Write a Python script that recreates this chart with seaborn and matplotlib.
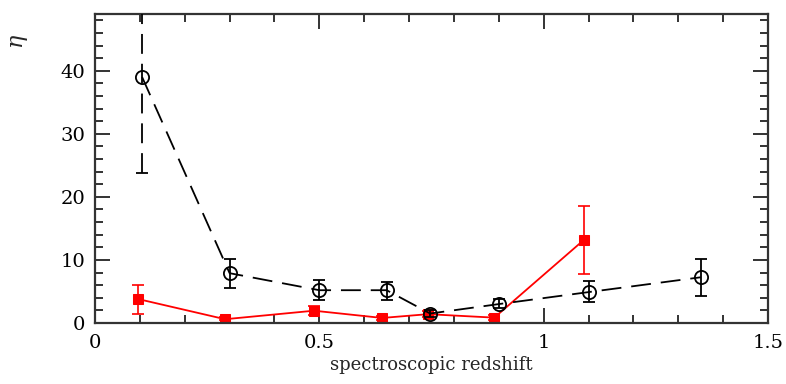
import numpy as np
import pandas as pd
import matplotlib
matplotlib.use("Agg")
import matplotlib.pyplot as plt
import seaborn as sns
from matplotlib.ticker import MultipleLocator

sns.set_theme(style="ticks")
plt.rcParams["font.family"] = ["DejaVu Serif"]
plt.rcParams["mathtext.fontset"] = "dejavuserif"

# Black sample: open circles, dashed line
z_black = [0.105, 0.30, 0.50, 0.65, 0.747, 0.90, 1.10, 1.35]
eta_black = [39.0, 7.9, 5.2, 5.2, 1.5, 3.0, 4.9, 7.25]
lo_black = [23.8, 5.5, 3.65, 3.65, 1.0, 2.3, 3.3, 4.3]
hi_black = [55.0, 10.1, 6.8, 6.55, 2.0, 3.8, 6.6, 10.1]

# Red sample: filled squares, solid line
z_red = [0.096, 0.29, 0.488, 0.64, 0.742, 0.89, 1.09]
eta_red = [3.8, 0.6, 1.95, 0.8, 1.4, 0.85, 13.2]
lo_red = [1.5, 0.4, 1.2, 0.5, 0.9, 0.5, 7.8]
hi_red = [6.0, 0.9, 2.7, 1.1, 1.9, 1.2, 18.6]

xticks = [0, 0.5, 1, 1.5]
xticklabels = ["0", "0.5", "1", "1.5"]
yticks = [0, 10, 20, 30, 40]

df_black = pd.DataFrame({"z": z_black, "eta": eta_black})
df_red = pd.DataFrame({"z": z_red, "eta": eta_red})

DASH = (0, (11, 5.5))

fig = plt.figure(figsize=(7.86, 3.84), dpi=100)
ax = fig.add_axes([95 / 786, 61 / 384, 673 / 786, 309 / 384])

# red sample (drawn underneath)
ax.errorbar(z_red, eta_red,
            yerr=[np.array(eta_red) - np.array(lo_red),
                  np.array(hi_red) - np.array(eta_red)],
            fmt="none", ecolor="red", elinewidth=1.2, capsize=4,
            capthick=1.2, zorder=2)
sns.lineplot(data=df_red, x="z", y="eta", ax=ax, color="red",
             linewidth=1.3, sort=False, zorder=2, marker="s",
             markersize=6.5, markeredgecolor="red", markerfacecolor="red")

# black sample: the long first bar is dashed, the rest solid
yb = np.array(eta_black)
err_lo = yb - np.array(lo_black)
err_hi = np.array(hi_black) - yb
eb0 = ax.errorbar(z_black[:1], eta_black[:1],
                  yerr=[err_lo[:1], err_hi[:1]],
                  fmt="none", ecolor="black", elinewidth=1.3, capsize=4,
                  capthick=1.3, zorder=3)
eb0[2][0].set_linestyle(DASH)
ax.errorbar(z_black[1:], eta_black[1:],
            yerr=[err_lo[1:], err_hi[1:]],
            fmt="none", ecolor="black", elinewidth=1.3, capsize=4,
            capthick=1.3, zorder=3)
sns.lineplot(data=df_black, x="z", y="eta", ax=ax, color="black",
             linewidth=1.3, sort=False, zorder=3)
ax.lines[-1].set_linestyle(DASH)
ax.plot(z_black, eta_black, linestyle="none", marker="o", markersize=9.5,
        markerfacecolor="none", markeredgecolor="black",
        markeredgewidth=1.3, zorder=4)

ax.set_xlim(0, 1.5)
ax.set_ylim(0, 49)
ax.set_xticks(xticks)
ax.set_xticklabels(xticklabels)
ax.set_yticks(yticks)
ax.xaxis.set_minor_locator(MultipleLocator(0.1))
ax.yaxis.set_minor_locator(MultipleLocator(2))
ax.tick_params(which="both", direction="in", top=True, right=True,
               width=1.4, colors="#333333", labelcolor="black",
               labelsize=14)
ax.tick_params(which="major", length=11)
ax.tick_params(which="minor", length=5.5)
ax.tick_params(axis="x", pad=8)
ax.tick_params(axis="y", pad=7)
for s in ax.spines.values():
    s.set_linewidth(1.6)
    s.set_color("#333333")

ax.set_xlabel("spectroscopic redshift", fontsize=13, labelpad=3)
ax.set_ylabel(r"$\eta$", fontsize=16, rotation=90)
ax.yaxis.set_label_coords(-0.097, 0.91)

fig.savefig("out.png", dpi=100)
